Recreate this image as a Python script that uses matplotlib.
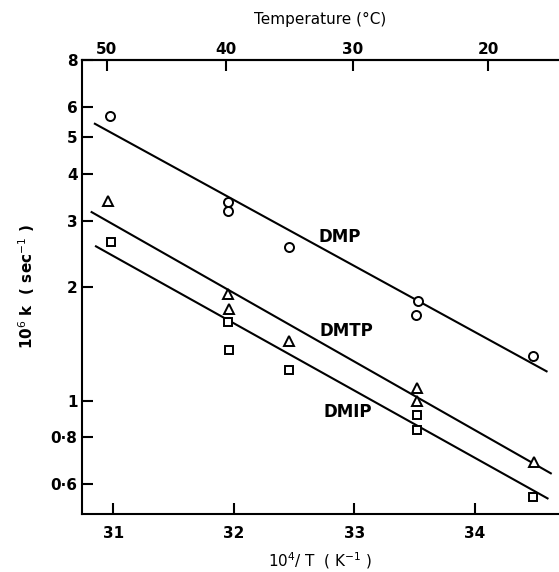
import matplotlib
matplotlib.use("Agg")
import matplotlib.pyplot as plt
import numpy as np

# ── Data ──────────────────────────────────────────────────────────────────────
# x = 10^4 / T (K^-1), y = 10^6 k (sec^-1)
DMP_X = [30.97, 31.95, 31.95, 32.46, 33.53, 33.51, 34.48]
DMP_Y = [5.67, 3.36, 3.19, 2.56, 1.84, 1.69, 1.31]

DMTP_X = [30.96, 31.95, 31.96, 32.46, 33.52, 33.52, 34.49]
DMTP_Y = [3.39, 1.92, 1.75, 1.44, 1.08, 1.00, 0.687]

DMIP_X = [30.98, 31.95, 31.96, 32.46, 33.52, 33.52, 34.48]
DMIP_Y = [2.64, 1.62, 1.36, 1.205, 0.918, 0.837, 0.556]

# fitted lines (end points)
DMP_LINE_X = [30.848, 34.594]
DMP_LINE_Y = [5.42, 1.195]
DMTP_LINE_X = [30.821, 34.629]
DMTP_LINE_Y = [3.16, 0.641]
DMIP_LINE_X = [30.857, 34.602]
DMIP_LINE_Y = [2.564, 0.550]

Y_TICKS = [0.6, 0.8, 1, 2, 3, 4, 5, 6, 8]
Y_LABELS = ["0·6", "0·8", "1", "2", "3", "4", "5", "6", "8"]
X_TICKS = [31, 32, 33, 34]
TEMP_TICKS = [50, 40, 30, 20]

plt.rcParams["font.family"] = "DejaVu Sans"

fig = plt.figure(figsize=(5.59, 5.72), dpi=100)
ax = fig.add_axes([0.146, 0.1014, 0.854, 0.7937])

ax.set_yscale("log")
ax.set_xlim(30.738, 34.697)
ax.set_ylim(0.5, 7.9)

mk = dict(linestyle="none", markerfacecolor="white", markeredgecolor="black",
          markeredgewidth=1.4, zorder=3)
ax.plot(DMP_X, DMP_Y, marker="o", markersize=6.5, **mk)
ax.plot(DMTP_X, DMTP_Y, marker="^", markersize=7, **mk)
ax.plot(DMIP_X, DMIP_Y, marker="s", markersize=6, **mk)

for lx, ly in [(DMP_LINE_X, DMP_LINE_Y), (DMTP_LINE_X, DMTP_LINE_Y),
               (DMIP_LINE_X, DMIP_LINE_Y)]:
    ax.plot(lx, ly, color="black", linewidth=1.5, zorder=2)

lab = dict(fontsize=12, fontweight="bold", ha="left", va="center")
ax.text(32.70, 10 ** ((400 - 236) / 379), "DMP", **lab)
ax.text(32.71, 10 ** ((400 - 330) / 379), "DMTP", **lab)
ax.text(32.74, 10 ** ((400 - 412) / 379), "DMIP", **lab)

# ── axes styling ──────────────────────────────────────────────────────────────
ax.set_yticks(Y_TICKS)
ax.set_yticklabels(Y_LABELS)
ax.yaxis.set_minor_locator(matplotlib.ticker.NullLocator())
ax.set_xticks(X_TICKS)
ax.set_xticklabels([str(v) for v in X_TICKS])

ax.tick_params(axis="both", which="major", direction="in", length=8, width=1.5,
               labelsize=11)
ax.tick_params(axis="x", pad=9)
ax.tick_params(axis="y", pad=3)
for t in ax.get_xticklabels() + ax.get_yticklabels():
    t.set_fontweight("bold")

for s in ["left", "bottom", "top"]:
    ax.spines[s].set_linewidth(1.5)
ax.spines["right"].set_visible(False)

secax = ax.secondary_xaxis(
    "top",
    functions=(lambda x: 1e4 / np.asarray(x, dtype=float) - 273.15,
               lambda c: 1e4 / (np.asarray(c, dtype=float) + 273.15)))
secax.set_xticks(TEMP_TICKS)
secax.set_xticklabels([str(v) for v in TEMP_TICKS])
secax.tick_params(direction="in", length=8, width=1.5, labelsize=11, pad=2)
for t in secax.get_xticklabels():
    t.set_fontweight("bold")
secax.spines["top"].set_linewidth(1.5)
secax.set_xlabel("Temperature (°C)", fontsize=11, labelpad=13)

ax.set_xlabel(r"10$^4$/ T  ( K$^{-1}$ )", fontsize=11, labelpad=6)
ax.set_ylabel(r"10$^6$ k  ( sec$^{-1}$ )", fontsize=11, fontweight="bold",
              labelpad=10)

fig.savefig("out.png", dpi=100)
